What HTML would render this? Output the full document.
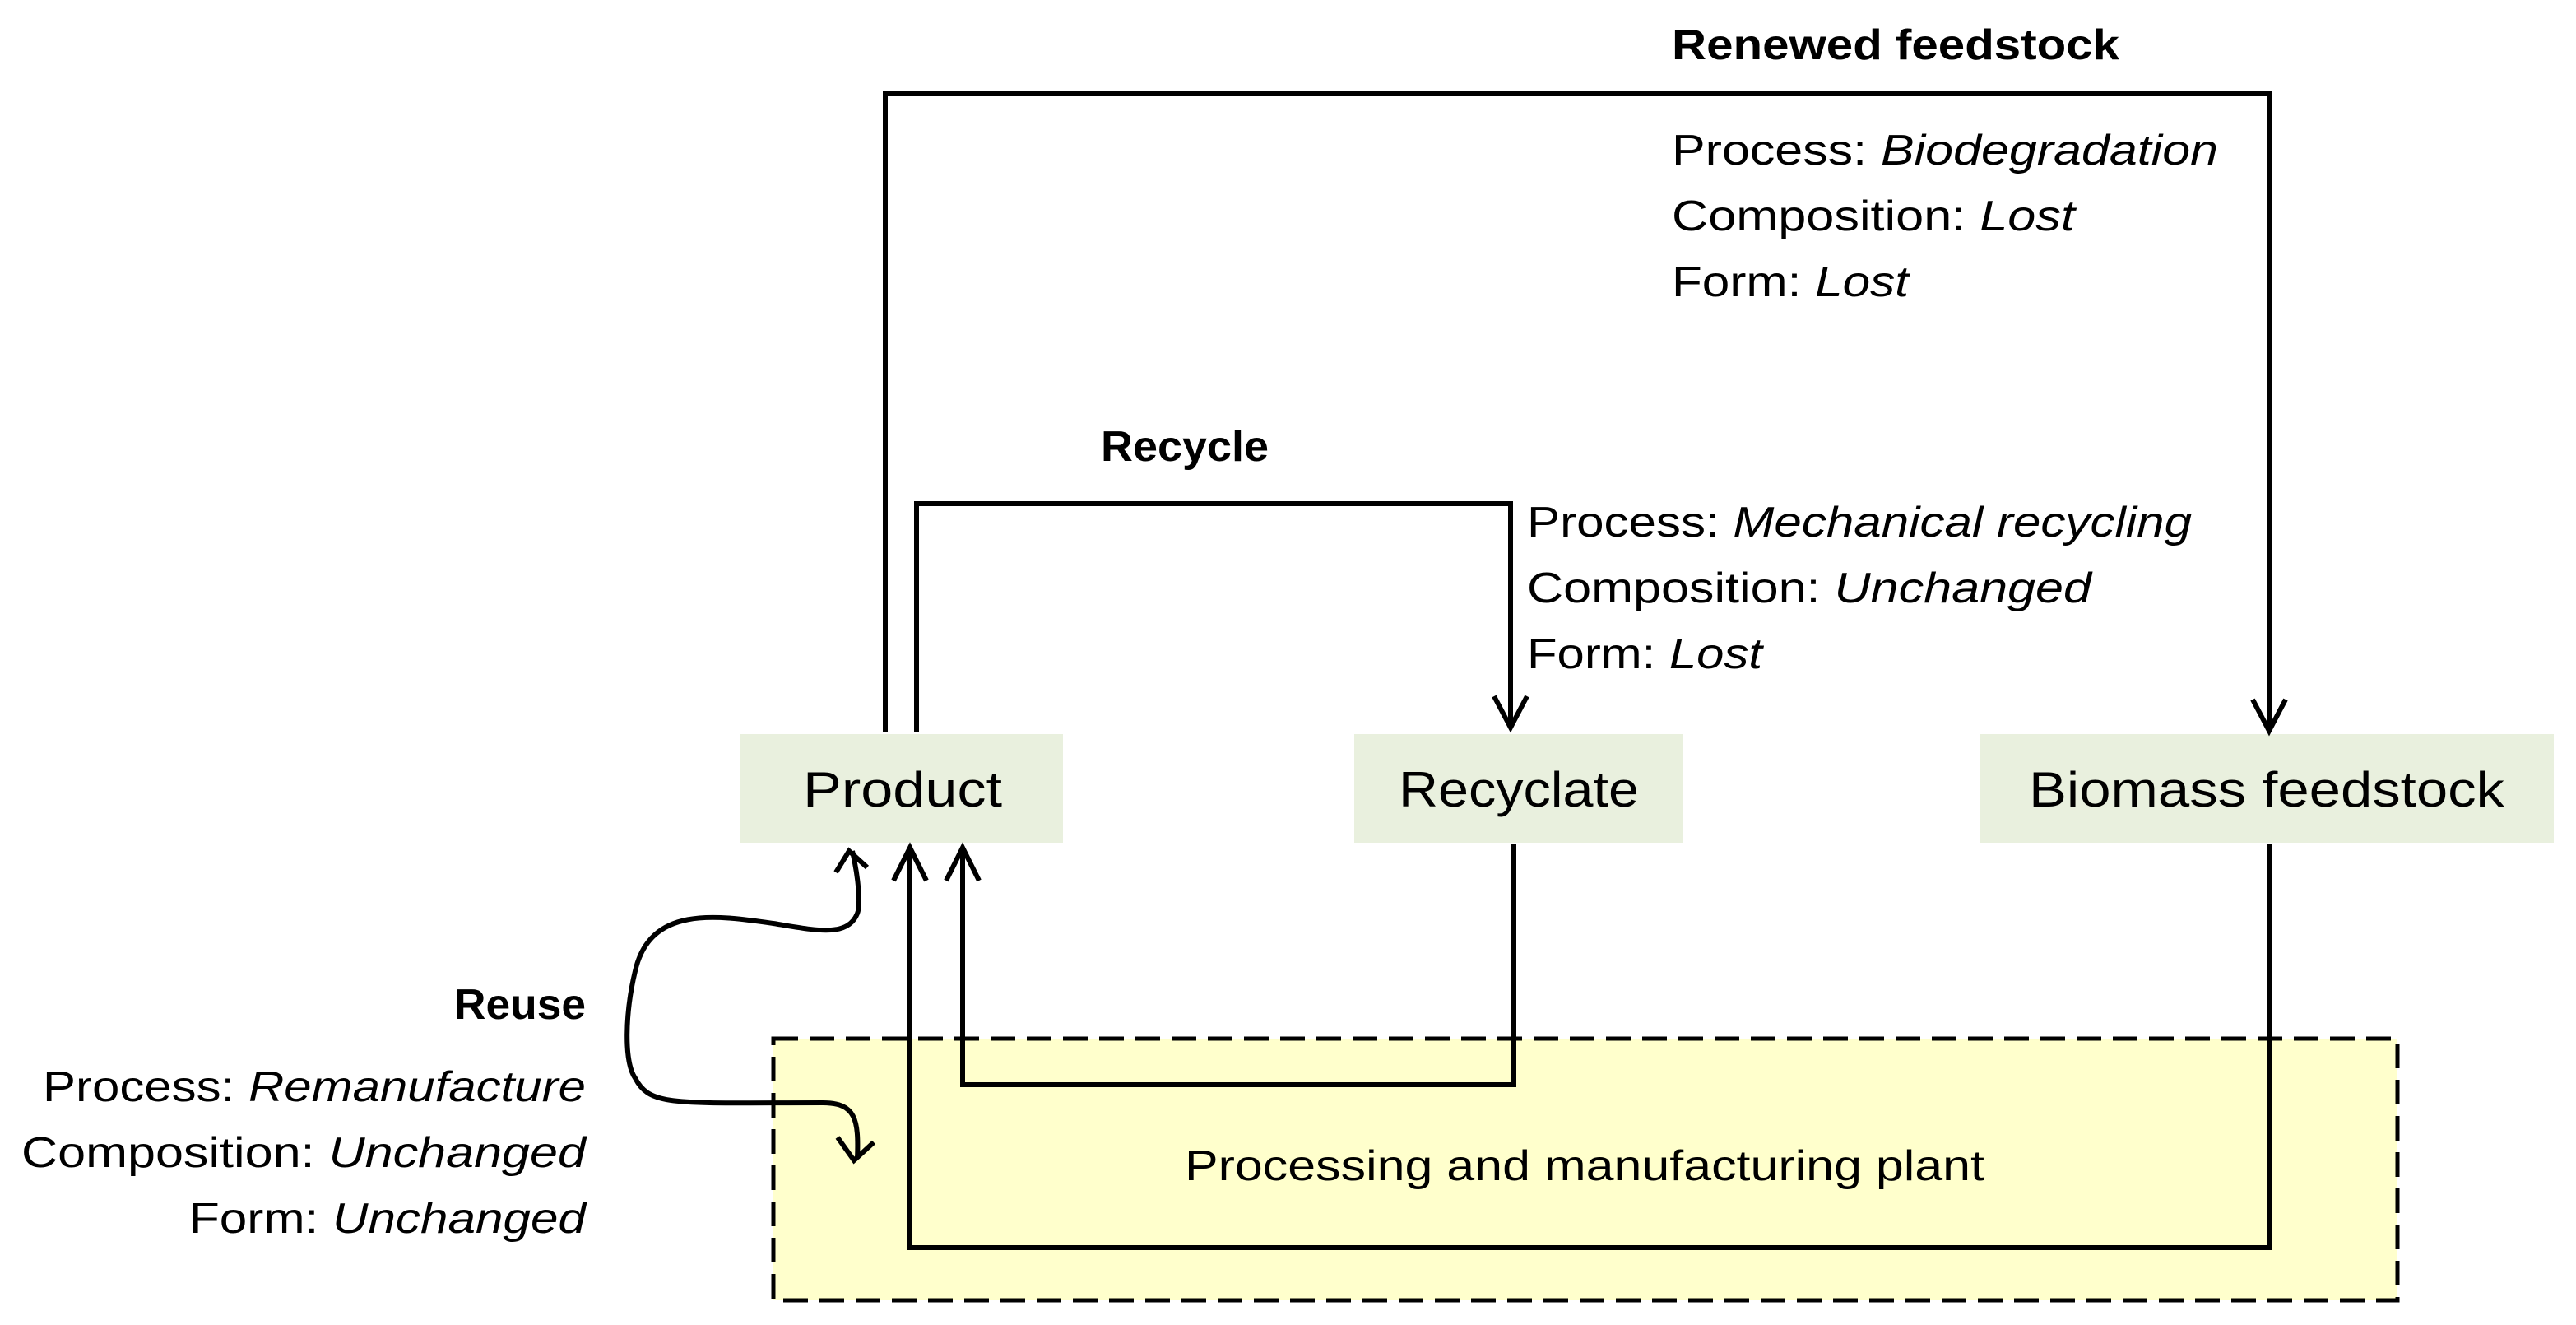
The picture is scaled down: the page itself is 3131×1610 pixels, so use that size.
<!DOCTYPE html>
<html><head><meta charset="utf-8"><style>html,body{margin:0;padding:0;background:#fff}svg{display:block}</style></head>
<body>
<svg width="3131" height="1610" viewBox="0 0 3131 1610" xmlns="http://www.w3.org/2000/svg" font-family="Liberation Sans, sans-serif">
<rect x="940" y="1262" width="1974" height="318" fill="#ffffcc" stroke="#000" stroke-width="5" stroke-dasharray="30,14"/>
<rect x="900" y="892" width="392" height="132" fill="#e9f0de"/>
<rect x="1646" y="892" width="400" height="132" fill="#e9f0de"/>
<rect x="2406" y="892" width="698" height="132" fill="#e9f0de"/>
<g fill="none" stroke="#000" stroke-width="6" stroke-linejoin="miter">
<polyline points="1076,890 1076,114 2758,114 2758,888"/>
<polyline points="2738,850 2758,888 2778,850"/>
<polyline points="1114,890 1114,612 1836,612 1836,884"/>
<polyline points="1816,846 1836,884 1856,846"/>
<polyline points="1840,1026 1840,1318 1170,1318 1170,1030"/>
<polyline points="1150,1070 1170,1030 1190,1070"/>
<polyline points="2758,1026 2758,1516 1106,1516 1106,1030"/>
<polyline points="1086,1070 1106,1030 1126,1070"/>
<path d="M1036,1034 C1044,1070 1046,1100 1042,1110 C1030,1140 990,1130 940,1122 C870,1112 790,1100 772,1180 C760,1230 758,1290 772,1310 C790,1345 820,1340 1000,1340 C1040,1340 1044,1360 1042,1408"/>
<polyline points="1016,1060 1032,1034 1054,1054"/>
<polyline points="1018,1382 1038,1410 1062,1388"/>
</g>
<g font-size="52" fill="#000">
<text x="2032" y="72" font-weight="bold" textLength="544" lengthAdjust="spacingAndGlyphs">Renewed feedstock</text>
<text x="2032" y="200" textLength="664" lengthAdjust="spacingAndGlyphs">Process: <tspan font-style="italic">Biodegradation</tspan></text>
<text x="2032" y="280" textLength="490" lengthAdjust="spacingAndGlyphs">Composition: <tspan font-style="italic">Lost</tspan></text>
<text x="2032" y="360" textLength="288" lengthAdjust="spacingAndGlyphs">Form: <tspan font-style="italic">Lost</tspan></text>
<text x="1338" y="560" font-weight="bold" textLength="204" lengthAdjust="spacingAndGlyphs">Recycle</text>
<text x="1856" y="652" textLength="808" lengthAdjust="spacingAndGlyphs">Process: <tspan font-style="italic">Mechanical recycling</tspan></text>
<text x="1856" y="732" textLength="686" lengthAdjust="spacingAndGlyphs">Composition: <tspan font-style="italic">Unchanged</tspan></text>
<text x="1856" y="812" textLength="286" lengthAdjust="spacingAndGlyphs">Form: <tspan font-style="italic">Lost</tspan></text>
<text x="552" y="1238" font-weight="bold" textLength="160" lengthAdjust="spacingAndGlyphs">Reuse</text>
<text x="52" y="1338" textLength="660" lengthAdjust="spacingAndGlyphs">Process: <tspan font-style="italic">Remanufacture</tspan></text>
<text x="26" y="1418" textLength="686" lengthAdjust="spacingAndGlyphs">Composition: <tspan font-style="italic">Unchanged</tspan></text>
<text x="230" y="1498" textLength="482" lengthAdjust="spacingAndGlyphs">Form: <tspan font-style="italic">Unchanged</tspan></text>
<text x="1440" y="1434" textLength="972" lengthAdjust="spacingAndGlyphs">Processing and manufacturing plant</text>
</g>
<g font-size="60" fill="#000">
<text x="976" y="980" textLength="242" lengthAdjust="spacingAndGlyphs">Product</text>
<text x="1700" y="980" textLength="292" lengthAdjust="spacingAndGlyphs">Recyclate</text>
<text x="2466" y="980" textLength="578" lengthAdjust="spacingAndGlyphs">Biomass feedstock</text>
</g>
</svg>
</body></html>
